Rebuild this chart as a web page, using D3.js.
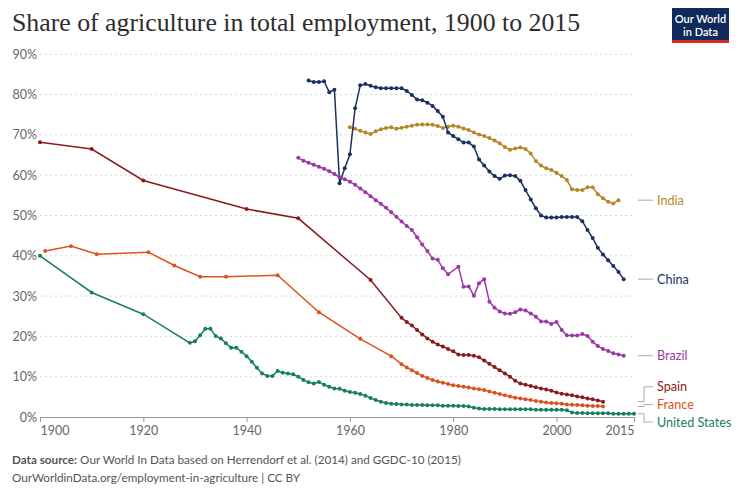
<!DOCTYPE html>
<html>
<head>
<meta charset="utf-8">
<script src="https://cdn.jsdelivr.net/npm/d3@7"></script>
<style>
  body { margin: 0; background: #fff; }
  svg { font-family: Lato, "Noto Sans", sans-serif; }
</style>
</head>
<body>
<svg class="chart" width="740" height="493"></svg>
<script>
// share of agriculture in total employment (%)

const chinaYears = d3.range(1952, 2014);
const chinaValues = [
  83.5, 83.1, 83.1, 83.3, 80.6, 81.2, 58.0, 61.7, 65.2, 76.6,
  82.3, 82.6, 82.2, 81.8, 81.6, 81.6, 81.6, 81.6, 81.6, 80.9,
  79.9, 78.8, 78.6, 78.0, 77.2, 75.9, 74.5, 70.6,
  69.7, 68.9, 68.1, 68.1, 67.1, 63.9, 62.4, 60.9, 59.8, 59.1,
  59.9, 60.0, 59.8, 58.6, 56.3, 54.0, 51.8, 50.0, 49.5, 49.5,
  49.5, 49.6, 49.6, 49.6, 49.6, 48.6, 46.4, 44.4, 42.0, 40.3,
  38.9, 37.5, 36.0, 34.2
];

const indiaYears = d3.range(1960, 2013);
const indiaValues = [
  71.9, 71.5, 71.0, 70.6, 70.2, 70.9, 71.4, 71.7, 71.9, 71.5,
  71.8, 72.0, 72.3, 72.5, 72.6, 72.6, 72.5, 72.2, 71.7, 72.0,
  72.3, 72.0, 71.6, 71.2, 70.6,
  70.1, 69.7, 69.2, 68.6, 67.9, 67.0, 66.3, 66.6, 66.9, 66.5,
  65.4, 63.5, 62.4, 61.7, 61.3, 60.6, 59.8, 58.8, 56.5, 56.3,
  56.3, 57.0, 57.0, 55.3, 54.3, 53.4, 53.0, 53.8
];

const brazilYears = d3.range(1950, 1980).concat(d3.range(1981, 2014));
const brazilValues = [
  64.3, 63.6, 63.1, 62.6, 62.1, 61.6, 61.0, 60.3, 59.5, 59.0,
  58.4, 57.6, 56.7, 55.8, 54.8, 53.8, 52.9, 51.9, 50.8, 49.7,
  48.5, 47.4, 46.4, 44.6, 42.8, 41.2, 39.3, 39.0, 36.9, 35.4,
  37.3, 32.3, 32.4, 30.1, 33.2, 34.2, 28.6, 27.1, 26.2,
  25.7, 25.6, 26.0, 26.7, 26.4, 25.7, 24.9, 23.7, 23.7, 23.1,
  23.6, 21.6, 20.3, 20.2, 20.2, 20.6, 20.1, 18.7, 17.6, 16.9,
  16.4, 15.8, 15.5, 15.2
];

const spainYears = [1900, 1910, 1920, 1940, 1950, 1964].concat(d3.range(1970, 2010));
const spainValues = [
  68.2, 66.5, 58.7, 51.6, 49.3, 34.0,
  24.6, 23.6, 22.7, 21.6, 20.5, 19.5, 18.7, 18.0, 17.5, 16.9,
  16.3, 15.5, 15.4, 15.4, 15.2, 14.8, 14.0, 13.2, 12.4, 11.6,
  10.8, 10.0, 9.0, 8.3, 8.0, 7.7, 7.4, 7.1, 6.8, 6.5,
  6.1, 5.8, 5.6, 5.4, 5.1, 4.9, 4.6, 4.4, 4.1, 3.8
];

const franceYears = [1901, 1906, 1911, 1921, 1926, 1931, 1936, 1946, 1954, 1962, 1968].concat(d3.range(1970, 2010));
const franceValues = [
  41.2, 42.4, 40.4, 40.9, 37.6, 34.8, 34.8, 35.2, 26.0, 19.4, 15.1,
  13.1, 12.3, 11.6, 10.9, 10.2, 9.7, 9.2, 8.8, 8.5, 8.2,
  7.9, 7.7, 7.5, 7.3, 7.1, 6.9, 6.7, 6.3, 6.0, 5.7,
  5.4, 5.1, 4.8, 4.6, 4.4, 4.2, 4.0, 3.8, 3.6, 3.5,
  3.4, 3.3, 3.1, 3.05, 3.0, 2.9, 2.8, 2.75, 2.7, 2.6
];

const usYears = [1900, 1910, 1920].concat(d3.range(1929, 2016));
const usValues = [
  40.0, 30.9, 25.5,
  18.4, 18.8, 20.3, 21.9, 21.9, 20.1, 19.5, 18.3, 17.2, 17.2,
  16.2, 15.1, 13.7, 12.2, 10.8, 10.2, 10.2, 11.4, 11.0, 10.8,
  10.6, 10.0, 9.2, 8.6, 8.3, 8.7, 8.0, 7.5, 7.1, 7.0,
  6.5, 6.2, 6.0, 5.7, 5.3, 4.7, 4.2, 3.8, 3.5, 3.3,
  3.2, 3.1, 3.1, 3.0, 3.0, 3.0, 2.9, 2.9, 2.9, 2.8,
  2.8, 2.8, 2.7, 2.7, 2.6, 2.3, 2.1, 2.0, 2.0, 2.0,
  1.9, 1.9, 1.9, 1.9, 1.9, 1.9, 1.9, 1.8, 1.8, 1.8,
  1.8, 1.8, 1.8, 1.7, 1.1, 1.0, 1.0, 0.9, 0.9, 0.9,
  0.9, 0.9, 0.8, 0.8, 0.8, 0.8, 0.8
];

const countryNames = ['India', 'China', 'Brazil', 'Spain', 'France', 'United States'];
const countryColors = ['#b98529', '#1c2f62', '#9c38a6', '#8a1b1d', '#d9531e', '#16805e'];
const yTickValues = [0, 10, 20, 30, 40, 50, 60, 70, 80, 90];
const xTickValues = [1900, 1920, 1940, 1960, 1980, 2000, 2015];

const allYears = [indiaYears, chinaYears, brazilYears, spainYears, franceYears, usYears];
const allValues = [indiaValues, chinaValues, brazilValues, spainValues, franceValues, usValues];

const series = countryNames.map((name, i) => ({
    name: name,
    color: countryColors[i],
    points: allYears[i].map((yr, j) => ({ year: yr, value: allValues[i][j] }))
}));

const svg = d3.select('.chart');

const xScale = d3.scaleLinear()
    .domain([1900, 2015]) // unit: year
    .range([40, 634]); // unit: px

const yScale = d3.scaleLinear()
    .domain([0, 90]) // unit: %
    .range([417, 54.3]); // unit: px

// title + logo
svg.append('text')
    .attr('x', 12).attr('y', 31)
    .attr('font-family', '"Liberation Serif", "DejaVu Serif", serif')
    .attr('font-size', 25.8)
    .attr('fill', '#2d2d2d')
    .text('Share of agriculture in total employment, 1900 to 2015');

const logo = svg.append('g').attr('transform', 'translate(672,8)');
logo.append('rect').attr('width', 57).attr('height', 35).attr('fill', '#0f2a5b');
logo.append('rect').attr('y', 32).attr('width', 57).attr('height', 3).attr('fill', '#d42b21');
logo.append('text').attr('x', 28.5).attr('y', 15).attr('text-anchor', 'middle')
    .attr('fill', '#fff').attr('font-size', 11).attr('font-weight', 600).text('Our World');
logo.append('text').attr('x', 28.5).attr('y', 27.5).attr('text-anchor', 'middle')
    .attr('fill', '#fff').attr('font-size', 11).attr('font-weight', 600).text('in Data');

// gridlines
svg.append('g')
    .selectAll('line')
    .data(yTickValues.filter(v => v > 0))
    .enter().append('line')
    .attr('x1', 40).attr('x2', 634)
    .attr('y1', d => yScale(d)).attr('y2', d => yScale(d))
    .attr('stroke', '#d8d8d8')
    .attr('stroke-dasharray', '2,3');

// y axis labels
const yAxis = d3.axisLeft(yScale)
    .tickValues(yTickValues)
    .tickFormat(d => d + '%')
    .tickSize(0)
    .tickPadding(0);

const yG = svg.append('g').attr('transform', 'translate(37,0)').call(yAxis);
yG.select('.domain').remove();
yG.selectAll('text').attr('font-size', 12.5).attr('fill', '#666').attr('font-family', 'Lato, sans-serif');

// x axis
const xAxis = d3.axisBottom(xScale)
    .tickValues(xTickValues)
    .tickFormat(d3.format('d'))
    .tickSize(5)
    .tickPadding(4);

const xG = svg.append('g').attr('transform', 'translate(0,417)').call(xAxis);
xG.select('.domain').attr('stroke', '#999');
xG.selectAll('.tick line').attr('stroke', '#999');
xG.selectAll('text')
    .attr('font-size', 12.5).attr('fill', '#666').attr('font-family', 'Lato, sans-serif')
    .attr('text-anchor', (d, i) => i === 0 ? 'start' : (i === xTickValues.length - 1 ? 'end' : 'middle'));

// lines + markers
const line = d3.line()
    .x(d => xScale(d.year))
    .y(d => yScale(d.value));

const countryG = svg.append('g')
    .selectAll('g')
    .data(series)
    .enter().append('g');

countryG.append('path')
    .attr('d', d => line(d.points))
    .attr('fill', 'none')
    .attr('stroke', d => d.color)
    .attr('stroke-width', 1.5);

countryG.selectAll('circle')
    .data(d => d.points.map(p => Object.assign({ color: d.color }, p)))
    .enter().append('circle')
    .attr('cx', d => xScale(d.year))
    .attr('cy', d => yScale(d.value))
    .attr('r', 2)
    .attr('fill', d => d.color);

// end labels, pushed apart where they overlap
const labels = series.map(s => {
    const last = s.points[s.points.length - 1];
    return { name: s.name, color: s.color, y0: yScale(last.value), y: yScale(last.value) };
}).sort((a, b) => a.y - b.y);

const gap = 17.6;
for (let k = 1; k < labels.length; k++) {
    if (labels[k].y - labels[k - 1].y < gap) labels[k].y = labels[k - 1].y + gap;
}
const maxY = 422;
for (let k = labels.length - 1; k >= 0; k--) {
    const limit = k === labels.length - 1 ? maxY : labels[k + 1].y - gap;
    if (labels[k].y > limit) labels[k].y = limit;
}

const labelG = svg.append('g');
labelG.selectAll('path')
    .data(labels)
    .enter().append('path')
    .attr('d', d => `M638,${d.y0}H644V${d.y}H653`)
    .attr('fill', 'none')
    .attr('stroke', '#aaa')
    .attr('stroke-width', 1);

labelG.selectAll('text')
    .data(labels)
    .enter().append('text')
    .attr('x', 657)
    .attr('y', d => d.y + 4.5)
    .attr('font-size', 12.6)
    .attr('fill', d => d.color)
    .text(d => d.name);

// footer
const foot = svg.append('g').attr('font-size', 11.7).attr('fill', '#555');
const src = foot.append('text').attr('x', 12).attr('y', 464);
src.append('tspan').attr('font-weight', 700).text('Data source:');
src.append('tspan').text(' Our World In Data based on Herrendorf et al. (2014) and GGDC-10 (2015)');
foot.append('text').attr('x', 12).attr('y', 482)
    .text('OurWorldinData.org/employment-in-agriculture | CC BY');
</script>
</body>
</html>
